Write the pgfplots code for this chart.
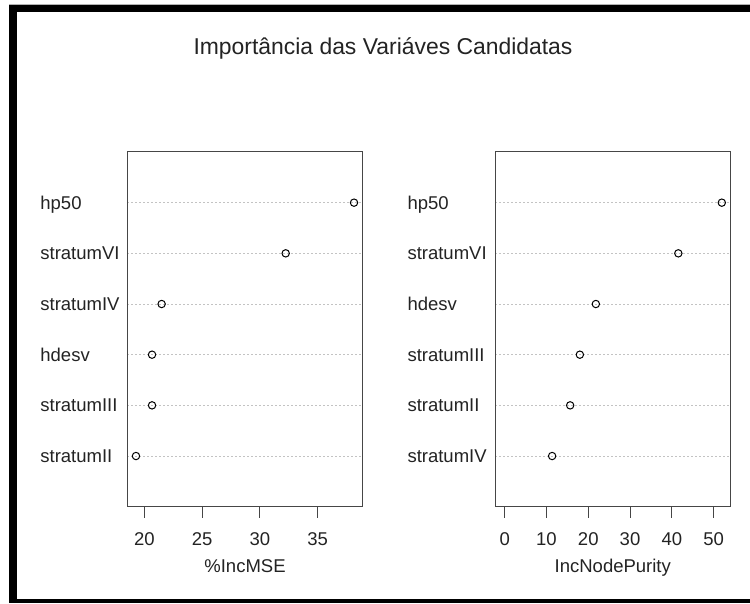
\documentclass[border=0pt]{standalone}
\usepackage{fontspec}
\setmainfont{Liberation Sans}
\usepackage{pgfplots}
\pgfplotsset{compat=1.18}
\definecolor{gridgray}{RGB}{195,195,195}
\definecolor{boxgray}{RGB}{70,70,70}
\definecolor{txt}{RGB}{35,35,35}
\pgfplotsset{
  dotpanel/.style={
    scale only axis, height=354.7pt,
    anchor=south west,
    ymin=0, ymax=7, ytick={1,2,3,4,5,6},
    axis line style={boxgray, line width=1pt},
    ymajorgrids,
    grid style={gridgray, line width=0.9pt, dash pattern=on 1.5pt off 2.5pt},
    ytick style={draw=none},
    major tick length=11pt, tick align=outside, xtick pos=left, ytick pos=left,
    xtick style={boxgray, line width=1pt},
    tick label style={font=\fontsize{18.5}{20}\selectfont, text=txt},
    /pgf/number format/assume math mode=true,
    xticklabel style={anchor=base, inner sep=0pt, yshift=-27.3pt},
    yticklabel style={anchor=base west, inner sep=0pt, yshift=-6.6pt},
    xlabel style={at={(axis description cs:0.5,0)}, anchor=base, inner sep=0pt,
      yshift=-65.3pt, font=\fontsize{18.5}{20}\selectfont, text=txt},
  },
  dotmarks/.style={only marks, mark=o, mark size=3.7pt,
    mark options={line width=1pt, fill=white, draw=black}},
}
\begin{document}
\begin{tikzpicture}
\path[use as bounding box, fill=white] (0pt,0pt) rectangle (750pt,603pt);
% frame
\fill[black] (9pt,598.7pt) rectangle (750pt,590.5pt);
\fill[black] (9pt,598.7pt) rectangle (16.7pt,0pt);
\fill[black] (9pt,4.5pt) rectangle (750pt,0pt);
\draw[gray!60, line width=0.6pt] (9pt,599pt) -- (750pt,599pt);
% title
\node[anchor=base, inner sep=0pt, font=\fontsize{22.9}{26}\selectfont, text=txt]
  at (383pt,548pt) {Importância das Variáves Candidatas};
% left panel
\begin{axis}[dotpanel, at={(127.3pt,96.3pt)}, width=235.4pt,
  xmin=18.53, xmax=38.89, xtick={20,25,30,35},
  yticklabels={stratumII,stratumIII,hdesv,stratumIV,stratumVI,hp50},
  yticklabel style={xshift=-76.1pt},
  xlabel={\%IncMSE}]
\addplot[dotmarks] coordinates {
  (19.28,1) (20.67,2) (20.67,3) (21.50,4) (32.23,5) (38.14,6)};
\end{axis}
% right panel
\begin{axis}[dotpanel, at={(495.3pt,96.3pt)}, width=235pt,
  xmin=-2.25, xmax=54.0, xtick={0,10,20,30,40,50},
  yticklabels={stratumIV,stratumII,stratumIII,hdesv,stratumVI,hp50},
  yticklabel style={xshift=-77pt},
  xlabel={IncNodePurity}]
\addplot[dotmarks] coordinates {
  (11.35,1) (15.67,2) (17.99,3) (21.82,4) (41.56,5) (51.97,6)};
\end{axis}
\end{tikzpicture}
\end{document}
